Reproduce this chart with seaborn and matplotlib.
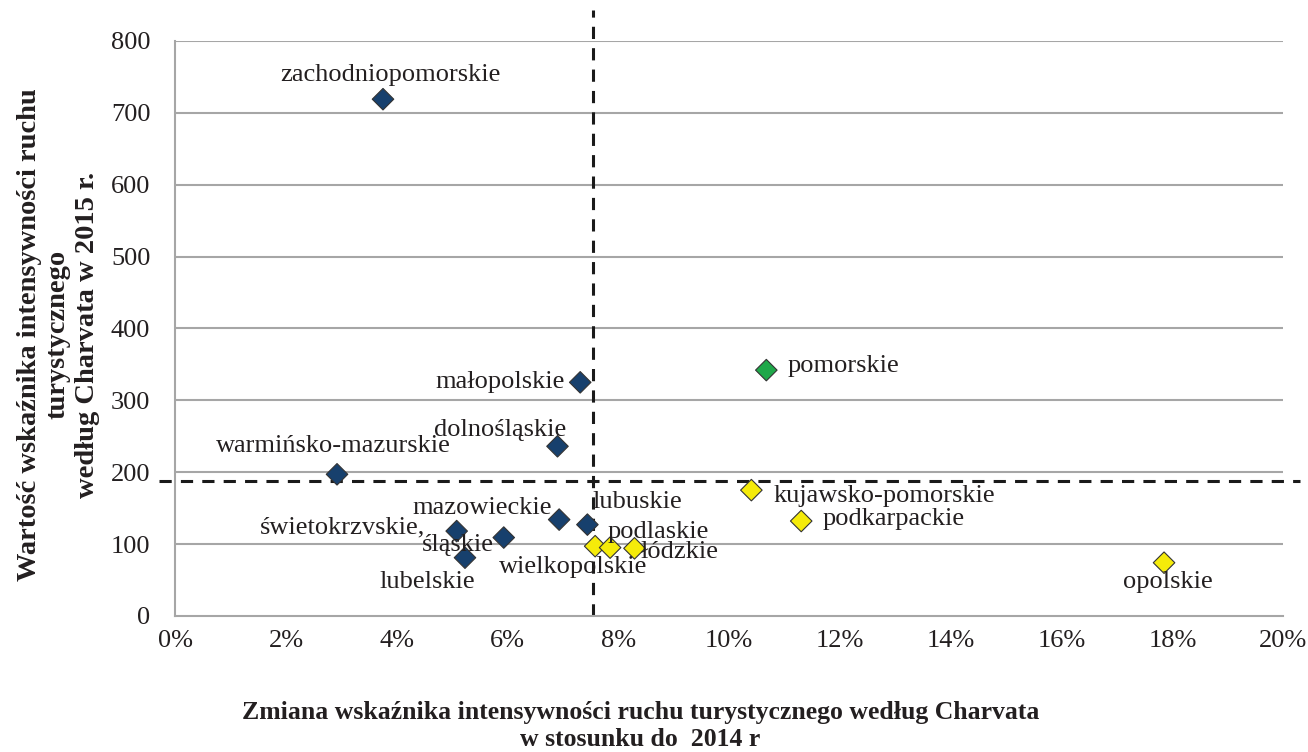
import numpy as np
import pandas as pd
import seaborn as sns
import matplotlib.pyplot as plt
from matplotlib.ticker import MultipleLocator, PercentFormatter

# ------------------------------------------
# Data
# ------------------------------------------
regions = ["zachodniopomorskie", "małopolskie", "dolnośląskie", "warmińsko-mazurskie",
           "mazowieckie", "lubuskie", "świetokrzvskie,", "śląskie", "lubelskie",
           "wielkopolskie", "podlaskie", "łódzkie", "pomorskie", "kujawsko-pomorskie",
           "podkarpackie", "opolskie"]
change_pct = [3.75, 7.31, 6.90, 2.92, 6.93, 7.44, 5.08, 5.93, 5.23,
              7.58, 7.85, 8.29, 10.67, 10.40, 11.30, 17.85]
value_2015 = [719, 325, 236, 197, 134, 127, 118, 109, 81,
              97, 95, 94, 342, 175, 132, 74]
group = ["A"] * 9 + ["B", "B", "B", "C", "B", "B", "B"]

mean_change = 7.55
mean_value = 188

# label offsets in pixels (dx, dy, horizontal alignment)
label_pos = {
    "zachodniopomorskie": (7, 24, "center"),
    "małopolskie": (-15, 0, "right"),
    "dolnośląskie": (-57, 16, "center"),
    "warmińsko-mazurskie": (-4, 28, "center"),
    "mazowieckie": (-77, 12, "center"),
    "lubuskie": (5, 23, "left"),
    "świetokrzvskie,": (-114, 4, "center"),
    "śląskie": (-46, -7, "center"),
    "lubelskie": (-38, -24, "center"),
    "wielkopolskie": (-22, -21, "center"),
    "podlaskie": (-3, 16, "left"),
    "łódzkie": (6, -4, "left"),
    "pomorskie": (21, 4, "left"),
    "kujawsko-pomorskie": (22, -6, "left"),
    "podkarpackie": (21, 2, "left"),
    "opolskie": (4, -19, "center"),
}

df = pd.DataFrame({"region": regions, "change": change_pct,
                   "value": value_2015, "group": group})

sns.set_style("white")
plt.rcParams["font.family"] = ["Liberation Serif", "DejaVu Serif"]

fig = plt.figure(figsize=(13.08, 7.52), dpi=100)
ax = fig.add_axes([0.134, 0.181, 0.847, 0.7645])

grid_col = "#a6a6a6"
for v in range(100, 801, 100):
    ax.axhline(v, color=grid_col, lw=1.5, zorder=0)

palette = {"A": "#17406d", "B": "#f5eb0a", "C": "#1fa84a"}
sns.scatterplot(data=df, x="change", y="value", hue="group", palette=palette,
                marker="D", s=120, edgecolor="#333333", linewidth=0.8,
                legend=False, ax=ax, zorder=3)

# mean lines
ax.plot([mean_change, mean_change], [0, 843], ls=(0, (4, 3)), color="#1a1a1a",
        lw=2.2, clip_on=False, zorder=2)
ax.plot([-0.3, 20.3], [mean_value, mean_value], ls=(0, (4, 3)), color="#1a1a1a",
        lw=2.2, clip_on=False, zorder=2)

for name, x, y in zip(regions, change_pct, value_2015):
    dx, dy, ha = label_pos[name]
    ax.annotate(name, (x, y), xytext=(dx, dy), textcoords="offset pixels",
                ha=ha, va="center", fontsize=19, color="#231f20", zorder=4)

ax.set_xlim(0, 20)
ax.set_ylim(0, 800)
ax.xaxis.set_major_locator(MultipleLocator(2))
ax.xaxis.set_minor_locator(MultipleLocator(1))
ax.xaxis.set_major_formatter(PercentFormatter(decimals=0))
ax.yaxis.set_major_locator(MultipleLocator(100))
ax.yaxis.set_minor_locator(MultipleLocator(20))
ax.tick_params(axis="both", which="major", direction="inout", length=12,
               width=1.5, color=grid_col, labelsize=19, labelcolor="#231f20", pad=4)
ax.tick_params(axis="y", which="major", pad=12)
ax.tick_params(axis="both", which="minor", direction="inout", length=8,
               width=1.2, color=grid_col)

sns.despine(ax=ax, top=True, right=True)
for side in ["left", "bottom"]:
    ax.spines[side].set_color(grid_col)
    ax.spines[side].set_linewidth(1.5)

ax.set_xlabel("Zmiana wskaźnika intensywności ruchu turystycznego według Charvata\n"
              "w stosunku do  2014 r", fontsize=18.5, fontweight="bold",
              color="#231f20", linespacing=1.2)
ax.xaxis.set_label_coords(0.42, -0.148)
ax.set_ylabel("Wartość wskaźnika intensywności ruchu\nturystycznego\n"
              "według Charvata w 2015 r.", fontsize=20.5, fontweight="bold",
              color="#231f20", linespacing=1.22)
ax.yaxis.set_label_coords(-0.068, 0.489)

fig.savefig("out.png", dpi=100)
